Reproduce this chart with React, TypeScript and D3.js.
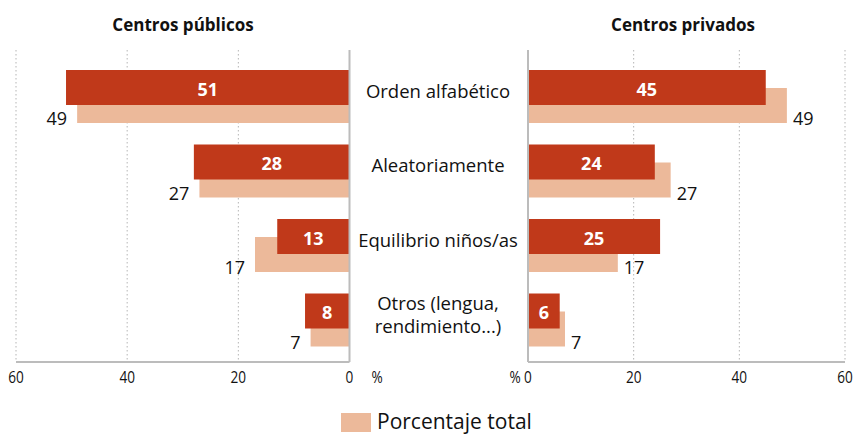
import React from "react";
import * as d3 from "d3";

const categories = ["Orden alfabético", "Aleatoriamente", "Equilibrio niños/as", "Otros (lengua,|rendimiento...)"];
const publicoSub = [51, 28, 13, 8];
const publicoTotal = [49, 27, 17, 7];
const privadoSub = [45, 24, 25, 6];
const privadoTotal = [49, 27, 17, 7];
const ticks = [0, 20, 40, 60];

const DARK = "#C0391A";
const LIGHT = "#ECB99A";
const FONT = "'Open Sans', 'Noto Sans', sans-serif";

export default function App() {
  const W = 861, H = 434;
  const top = 50, bottom = 362;
  const xL = d3.scaleLinear().domain([0, 60]).range([349.5, 16]);
  const xR = d3.scaleLinear().domain([0, 60]).range([528, 845]);
  const y = d3.scaleBand().domain(categories).range([52, 350]);
  const barH = 35;
  const off = 18;

  const panel = (x: d3.ScaleLinear<number, number>, sub: number[], tot: number[], side: "L" | "R") => (
    <g>
      {ticks.filter(t => t > 0).map(t => (
        <line key={t} x1={x(t)} x2={x(t)} y1={top} y2={bottom} stroke="#b5b5b5" strokeWidth={1} strokeDasharray="1.5,2.5" />
      ))}
      {categories.map((c, i) => {
        const dTop = (y(c) as number) + off;
        const lTop = dTop + off;
        const x0 = x(0);
        const xd = x(sub[i]);
        const xl = x(tot[i]);
        return (
          <g key={c}>
            <rect x={Math.min(x0, xl)} y={lTop} width={Math.abs(xl - x0)} height={barH} fill={LIGHT} />
            <rect x={Math.min(x0, xd)} y={dTop} width={Math.abs(xd - x0)} height={barH} fill={DARK} />
            <text x={(x0 + xd) / 2} y={dTop + barH / 2 + 2} dy="0.36em" textAnchor="middle" fill="#fff" fontWeight="bold" fontSize={18} fontFamily={FONT}>{sub[i]}</text>
            <text x={side === "L" ? xl - 10 : xl + 6} y={lTop + 31} dy="0.36em" textAnchor={side === "L" ? "end" : "start"} fill="#111" fontSize={18} fontFamily={FONT}>{tot[i]}</text>
          </g>
        );
      })}
      <line x1={x(0)} x2={x(0)} y1={top} y2={bottom} stroke="#bcbcbc" strokeWidth={2} />
      <line x1={x(0)} x2={x(60)} y1={bottom} y2={bottom} stroke="#bcbcbc" strokeWidth={2} />
      {ticks.map(t => (
        <text key={t} x={x(t)} y={377} dy="0.36em" textAnchor="middle" fontSize={16} fill="#111" fontFamily={FONT} transform={`translate(${x(t)},0) scale(0.85,1) translate(${-x(t)},0)`}>{t}</text>
      ))}
    </g>
  );

  return (
    <svg width={W} height={H} style={{ position: "absolute", left: 0, top: 0 }}>
      <rect width={W} height={H} fill="#fff" />
      <text x={183} y={25} dy="0.36em" textAnchor="middle" fontWeight="bold" fontSize={17} fill="#111" fontFamily={FONT}>Centros públicos</text>
      <text x={683} y={25} dy="0.36em" textAnchor="middle" fontWeight="bold" fontSize={17} fill="#111" fontFamily={FONT}>Centros privados</text>
      {panel(xL, publicoSub, publicoTotal, "L")}
      {panel(xR, privadoSub, privadoTotal, "R")}
      {categories.map(c => {
        const cy = (y(c) as number) + off + barH / 2 + 3.5;
        const lines = c.split("|");
        return (
          <text key={c} textAnchor="middle" fontSize={18.5} fill="#111" fontFamily={FONT}>
            {lines.map((l, j) => (
              <tspan key={j} x={438} y={cy + (j - (lines.length - 1) / 2) * 23} dy="0.36em">{l}</tspan>
            ))}
          </text>
        );
      })}
      <text x={377} y={377} dy="0.36em" textAnchor="middle" fontSize={16} fill="#111" fontFamily={FONT} transform="translate(377,0) scale(0.85,1) translate(-377,0)">%</text>
      <text x={515} y={377} dy="0.36em" textAnchor="middle" fontSize={16} fill="#111" fontFamily={FONT} transform="translate(515,0) scale(0.85,1) translate(-515,0)">%</text>
      <rect x={341} y={413} width={30} height={19} fill={LIGHT} />
      <text x={377} y={421} dy="0.36em" fontSize={21} fill="#111" fontFamily={FONT}>Porcentaje total</text>
    </svg>
  );
}
